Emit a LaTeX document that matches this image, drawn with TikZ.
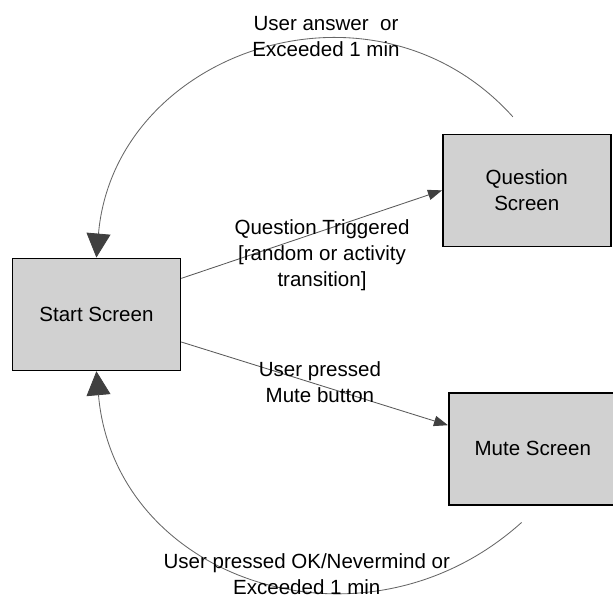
\documentclass[tikz,border=0pt]{standalone}
\usepackage{fontspec}
\setmainfont{Liberation Sans}
\usetikzlibrary{arrows.meta, positioning}

\begin{document}
\begin{tikzpicture}[node distance=2cm, on grid,
        font=\fontsize{14.6}{18.5}\selectfont,
        screen/.style={draw, line width=1.2pt, fill=black!18,
            minimum width=4.2cm, minimum height=2.8cm, align=center},
        trans/.style={draw=black!65, line width=0.6pt,
            -{Triangle[length=0.35cm, width=0.26cm, color=black!75]}},
        loopback/.style={draw=black!60, line width=0.6pt,
            -{Triangle[length=0.6cm, width=0.6cm, color=black!75]}},
        note/.style={align=center}]
        \useasboundingbox (0,0) rectangle (15.325,15.05);

        \node[screen] (start) at (2.41,7.19) {Start Screen};
        \node[screen] (question) [above right=3.1cm and 10.76cm of start] {Question\\Screen};
        \node[screen] (mute) [below right=3.36cm and 10.91cm of start] {Mute Screen};
        \coordinate[above left=0.42cm and 0.35cm of question.north] (qtail);
        \coordinate[below left=0.42cm and 0.28cm of mute.south] (mtail);

        \draw[trans] ([yshift=0.9cm]start.east) -- (question.west)
            node[note, pos=0.54, yshift=-0.62cm] {Question Triggered\\{[}random or activity\\transition{]}};
        \draw[trans] ([yshift=-0.69cm]start.east) -- ([yshift=0.59cm]mute.west)
            node[note, pos=0.52, yshift=0.08cm] {User pressed\\Mute button};

        % the two ways back to the start screen
        \draw[loopback] (qtail) to[out=132, in=85, looseness=1.21] (start.north);
        \draw[loopback] (mtail) to[out=222, in=275, looseness=1.2] (start.south);
        \node[note] (answered) [above right=6.94cm and 5.74cm of start] {User answer\ \ or\\Exceeded 1 min};
        \node[note] (dismissed) [below right=6.49cm and 5.26cm of start] {User pressed OK/Nevermind or\\Exceeded 1 min};
    \end{tikzpicture}
\end{document}
